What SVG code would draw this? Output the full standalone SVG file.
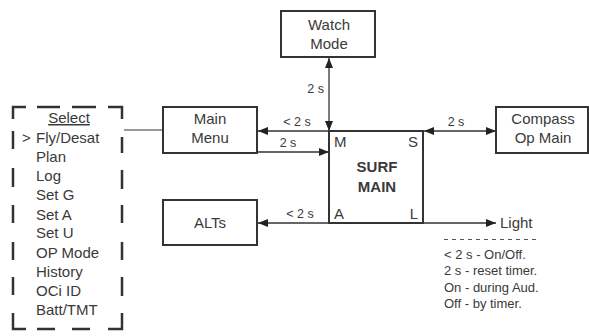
<svg xmlns="http://www.w3.org/2000/svg" width="589" height="336" viewBox="0 0 589 336">
<style>
text{font-family:"Liberation Sans",Arial,sans-serif;fill:#3a3a3a;font-size:15px}
.box{fill:#fff;stroke:#333;stroke-width:2}
.c{text-anchor:middle}
.lbl{font-size:12.5px}
.note{font-size:13px}
.ln{stroke:#333;stroke-width:1.3;fill:none}
</style>
<defs>
<marker id="ah" viewBox="0 0 10 8" refX="10" refY="4" markerWidth="10" markerHeight="8" markerUnits="userSpaceOnUse" orient="auto-start-reverse">
<path d="M0,0 L10,4 L0,8 Z" fill="#222"/>
</marker>
</defs>
<g id="connectors">
<line class="ln" x1="124" y1="130" x2="163" y2="130" style="stroke:#999;stroke-width:2"/>
<line class="ln" x1="329" y1="58" x2="329" y2="131" marker-start="url(#ah)" marker-end="url(#ah)"/>
<text class="lbl" x="324" y="93" text-anchor="end">2 s</text>
<line class="ln" x1="329" y1="131" x2="258" y2="131" marker-end="url(#ah)"/>
<text class="lbl" x="297" y="126" text-anchor="middle">&lt; 2 s</text>
<line class="ln" x1="257" y1="152" x2="329" y2="152" marker-end="url(#ah)"/>
<text class="lbl" x="288" y="147" text-anchor="middle">2 s</text>
<line class="ln" x1="424" y1="131" x2="496" y2="131" marker-start="url(#ah)" marker-end="url(#ah)"/>
<text class="lbl" x="456" y="126" text-anchor="middle">2 s</text>
<line class="ln" x1="329" y1="223" x2="258" y2="223" marker-end="url(#ah)"/>
<text class="lbl" x="300" y="218" text-anchor="middle">&lt; 2 s</text>
<line class="ln" x1="423" y1="223" x2="496" y2="223" marker-end="url(#ah)"/>
</g>
<g id="select">
<path fill="none" stroke="#333" stroke-width="2.5" d="M13,119 V107 H26 M37,107 H60 M72,107 H96 M108,107 H122 V119 M13,131 V149 M13,168 V187 M13,205 V223 M13,242 V260 M13,277 V295 M13,313 V329 H26 M37,329 H55 M72,329 H90 M108,329 H122 V313 M122,137 V153 M122,170 V189 M122,205 V223 M122,242 V260 M122,277 V296"/>
<text x="69" y="123" class="c" text-decoration="underline">Select</text>
<text x="22" y="143">&gt;</text>
<text x="36" y="143">Fly/Desat</text>
<text x="36" y="162">Plan</text>
<text x="36" y="181">Log</text>
<text x="36" y="200">Set G</text>
<text x="36" y="220">Set A</text>
<text x="36" y="238">Set U</text>
<text x="36" y="258">OP Mode</text>
<text x="36" y="277">History</text>
<text x="36" y="296">OCi ID</text>
<text x="36" y="315">Batt/TMT</text>
</g>
<g id="watch">
<rect class="box" x="281" y="11" width="94" height="46"/>
<text x="329" y="30" class="c">Watch</text>
<text x="329" y="49" class="c">Mode</text>
</g>
<g id="mainmenu">
<rect class="box" x="163" y="107" width="94" height="46"/>
<text x="210" y="124" class="c">Main</text>
<text x="210" y="143" class="c">Menu</text>
</g>
<g id="compass">
<rect class="box" x="496" y="107" width="92" height="46"/>
<text x="543" y="124" class="c">Compass</text>
<text x="543" y="143" class="c">Op Main</text>
</g>
<g id="alts">
<rect class="box" x="163" y="200" width="94" height="45"/>
<text x="210" y="228" class="c">ALTs</text>
</g>
<g id="surf">
<rect class="box" x="329" y="131" width="94" height="92"/>
<text x="334" y="147" font-size="14">M</text>
<text x="418" y="147" text-anchor="end" font-size="14">S</text>
<text x="377" y="172" class="c" font-weight="bold">SURF</text>
<text x="377" y="192" class="c" font-weight="bold">MAIN</text>
<text x="334" y="219" font-size="14">A</text>
<text x="418" y="219" text-anchor="end" font-size="14">L</text>
</g>
<g id="light">
<text x="500" y="228">Light</text>
<line x1="444" y1="239.5" x2="538" y2="239.5" stroke="#555" stroke-width="1" stroke-dasharray="4 4"/>
<text class="note" x="444" y="259">&lt; 2 s - On/Off.</text>
<text class="note" x="444" y="275">2 s - reset timer.</text>
<text class="note" x="444" y="292">On - during Aud.</text>
<text class="note" x="444" y="308">Off - by timer.</text>
</g>
</svg>
